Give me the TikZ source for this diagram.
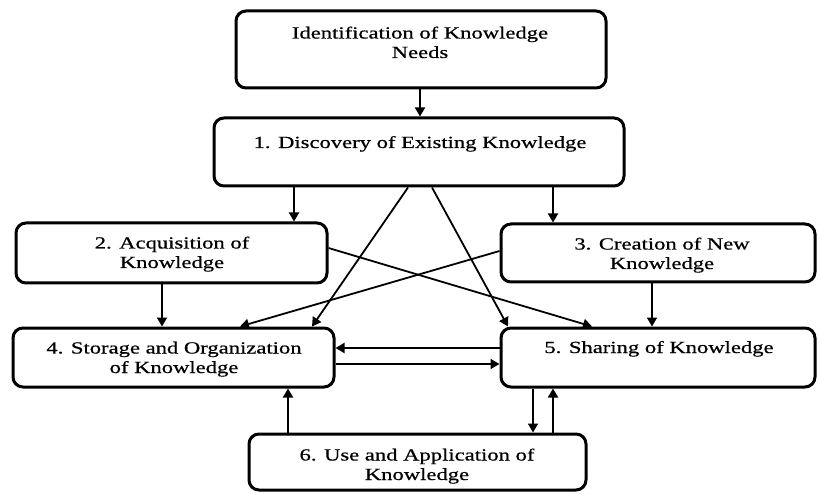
\documentclass[tikz,border=0pt]{standalone}
\usepackage{fontspec}
\setmainfont[FakeStretch=1.33,FakeBold=0.6]{Liberation Serif}
\usetikzlibrary{arrows.meta}
\begin{document}
\begin{tikzpicture}[x=1pt,y=-1pt,
  box/.style={draw, line width=3pt, rounded corners=10pt, inner sep=0pt},
  txt/.style={font=\fontsize{17}{19.5}\selectfont, align=center, inner sep=0pt, anchor=base},
  arr/.style={line width=1.8pt, -{Triangle[length=9pt,width=10pt]}}]
\useasboundingbox (0,0) rectangle (819,494);
% boxes
\node[box, minimum width=370pt, minimum height=77pt] (n0) at (421,49.5) {};
\node[box, minimum width=410pt, minimum height=68pt] (n1) at (419,152) {};
\node[box, minimum width=311pt, minimum height=60pt] (n2) at (171.5,253) {};
\node[box, minimum width=314pt, minimum height=58pt] (n3) at (658,253) {};
\node[box, minimum width=321pt, minimum height=59pt] (n4) at (173.5,357.5) {};
\node[box, minimum width=314pt, minimum height=59pt] (n5) at (658,357.5) {};
\node[box, minimum width=337pt, minimum height=56pt] (n6) at (417.5,462) {};
% texts (base anchor = baseline of the last line)
\node[txt] (t0) at (420,58) {Identification of Knowledge\\Needs};
\node[txt] (t1) at (420,148) {1. Discovery of Existing Knowledge};
\node[txt] (t2) at (172,268) {2. Acquisition of\\Knowledge};
\node[txt] (t3) at (662,269) {3. Creation of New\\Knowledge};
\node[txt] (t4) at (174,373) {4. Storage and Organization\\of Knowledge};
\node[txt] (t5) at (659,353) {5. Sharing of Knowledge};
\node[txt] (t6) at (417,480) {6. Use and Application of\\Knowledge};
% helper coordinates
\coordinate (xa) at (420,0);
\coordinate (xb) at (294,0);
\coordinate (xc) at (553,0);
\coordinate (xd) at (408,0);
\coordinate (xe) at (312,0);
\coordinate (xf) at (432,0);
\coordinate (xg) at (508,0);
\coordinate (xh) at (592,0);
\coordinate (xi) at (240,0);
\coordinate (xj) at (162,0);
\coordinate (xk) at (652,0);
\coordinate (xl) at (288,0);
\coordinate (xm) at (533,0);
\coordinate (xn) at (553,0);
\coordinate (ya) at (0,248);
\coordinate (yb) at (0,251);
\coordinate (yc) at (0,348);
\coordinate (yd) at (0,364);
% connectors
\draw[arr] (n0.south -| xa) -- (n1.north -| xa);
\draw[arr] (n1.south -| xb) -- (n2.north -| xb);
\draw[arr] (n1.south -| xc) -- (n3.north -| xc);
\draw[arr] (n1.south -| xd) -- (n4.north -| xe);
\draw[arr] (n1.south -| xf) -- (n5.north -| xg);
\draw[arr] (n2.east |- ya) -- (n5.north -| xh);
\draw[arr] (n3.west |- yb) -- (n4.north -| xi);
\draw[arr] (n2.south -| xj) -- (n4.north -| xj);
\draw[arr] (n3.south -| xk) -- (n5.north -| xk);
\draw[arr] (n5.west |- yc) -- (n4.east |- yc);
\draw[arr] (n4.east |- yd) -- (n5.west |- yd);
\draw[arr] (n6.north -| xl) -- (n4.south -| xl);
\draw[arr] (n5.south -| xm) -- (n6.north -| xm);
\draw[arr] (n6.north -| xn) -- (n5.south -| xn);
\end{tikzpicture}
\end{document}
